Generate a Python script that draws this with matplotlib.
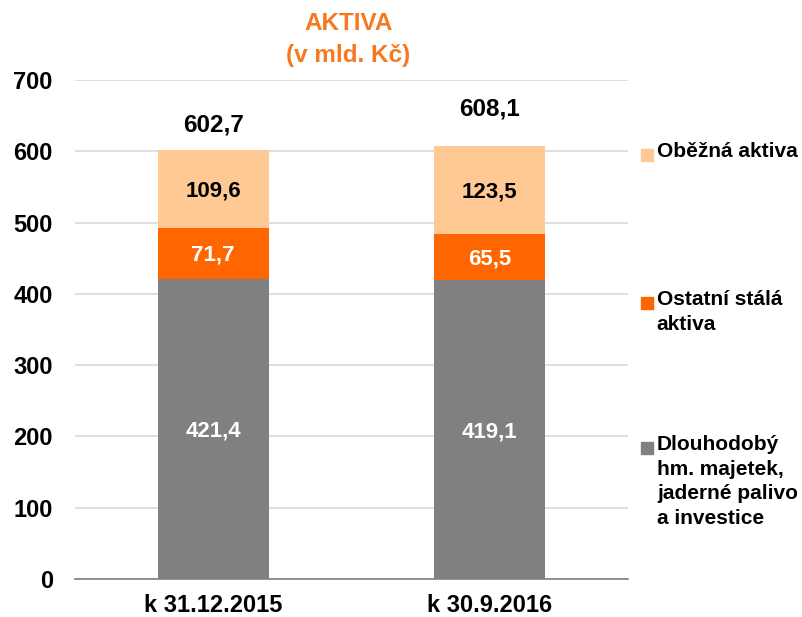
import matplotlib
matplotlib.use("Agg")
import matplotlib.pyplot as plt
from matplotlib.patches import Rectangle

plt.rcParams['font.family'] = ['Liberation Sans', 'DejaVu Sans']
plt.rcParams['font.weight'] = 'bold'

categories = ["k 31.12.2015", "k 30.9.2016"]
series_names = ["Dlouhodobý\nhm. majetek,\njaderné palivo\na investice",
                "Ostatní stálá\naktiva",
                "Oběžná aktiva"]
dlouhodoby = [421.4, 419.1]
ostatni = [71.7, 65.5]
obezna = [109.6, 123.5]
totals = [602.7, 608.1]
series = [dlouhodoby, ostatni, obezna]
colors = ["#808080", "#FF6600", "#FFC996"]
label_colors = ["white", "white", "black"]
total_offsets = [34, 52]  # label offsets above bar top (layout)

fig = plt.figure(figsize=(8.03, 6.17), dpi=100)
ax = fig.add_axes([0.0934, 0.0616, 0.6886, 0.8084])

x = list(range(len(categories)))
bottoms = [0.0] * len(categories)
for vals, col, lc in zip(series, colors, label_colors):
    ax.bar(x, vals, width=0.40, bottom=bottoms, color=col, zorder=3)
    for xi, v, b in zip(x, vals, bottoms):
        ax.text(xi, b + v / 2 - 3, f"{v:.1f}".replace(".", ","), ha="center", va="center",
                color=lc, fontsize=16, fontweight="bold", zorder=4)
    bottoms = [b + v for b, v in zip(bottoms, vals)]

for xi, t, off in zip(x, totals, total_offsets):
    ax.text(xi, t + off, f"{t:.1f}".replace(".", ","), ha="center", va="center",
            color="black", fontsize=17.5, fontweight="bold")

ax.set_xlim(-0.5, 1.5)
ax.set_ylim(0, 700)
ax.set_yticks(range(0, 701, 100))
ax.set_xticks(x)
ax.set_xticklabels(categories)
ax.tick_params(axis="both", length=0, labelsize=17)
ax.tick_params(axis="y", pad=16)
ax.tick_params(axis="x", pad=11)
for lab in ax.get_xticklabels() + ax.get_yticklabels():
    lab.set_fontweight("bold")
ax.grid(axis="y", color="#D9D9D9", linewidth=1.2, zorder=0)
for s in ["top", "right", "left"]:
    ax.spines[s].set_visible(False)
ax.spines["bottom"].set_color("#808080")
ax.spines["bottom"].set_linewidth(1.2)

fig.text(0.434, 0.962, "AKTIVA", ha="center", va="center", color="#F47920",
         fontsize=17.5, fontweight="bold")
fig.text(0.434, 0.910, "(v mld. Kč)", ha="center", va="center", color="#F47920",
         fontsize=17.5, fontweight="bold")

# manual legend
legend_y = [0.295, 0.530, 0.770]  # figure coords of top of first text line
for yy, name, col in zip(legend_y, series_names, colors):
    fig.add_artist(Rectangle((0.798, yy - 0.031), 0.0150, 0.0195,
                             transform=fig.transFigure, color=col))
    fig.text(0.818, yy, name, ha="left", va="top", fontsize=15,
             fontweight="bold", linespacing=1.37, transform=fig.transFigure)

fig.savefig("out.png", dpi=100)
